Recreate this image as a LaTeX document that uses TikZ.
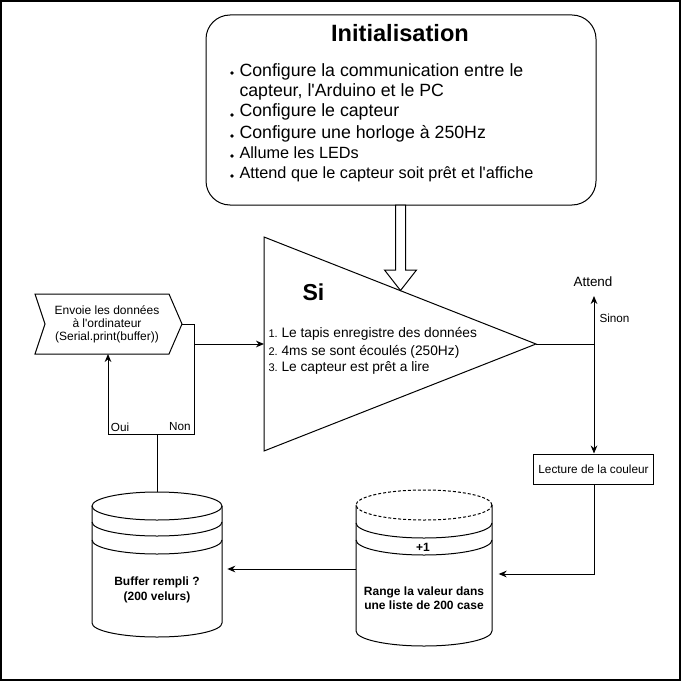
\documentclass[tikz,border=0pt]{standalone}
\usepackage{fontspec}
\setmainfont{Liberation Sans}[Ligatures=TeXOff]
\usetikzlibrary{arrows.meta}
\begin{document}
\begin{tikzpicture}[x=0.75pt,y=-0.75pt,line width=0.75pt,
  arr/.style={-{Stealth[length=6pt,width=5pt]}},
  bul/.style={anchor=base west,inner sep=0pt,font=\fontsize{13.3}{15}\selectfont},
  bulsmall/.style={anchor=base west,inner sep=0pt,font=\fontsize{12.2}{14}\selectfont},
  dot/.style={fill=black,circle,inner sep=0pt,minimum size=2.8pt},
  lst/.style={anchor=base west,inner sep=0pt,font=\fontsize{10.3}{12}\selectfont},
  num/.style={anchor=base west,inner sep=0pt,font=\fontsize{8.3}{10}\selectfont},
  lbl/.style={inner sep=0pt,font=\fontsize{8.8}{10}\selectfont},
  boldlbl/.style={inner sep=0pt,align=center,font=\bfseries\fontsize{9}{11}\selectfont},
  cylL/.style={x radius=48.75pt,y radius=10.5pt},
  cylR/.style={x radius=51pt,y radius=11.25pt}]
\useasboundingbox (0,0) rectangle (681,681);
\draw[line width=1.5pt] (0.75,0.75) rectangle (680.25,680.25);

% Initialisation box
\node[draw,rounded corners=18pt,minimum width=292.5pt,minimum height=142.5pt,inner sep=0pt] (init) at (401,110) {};
\node[anchor=base,inner sep=0pt,font=\bfseries\fontsize{17.7}{20}\selectfont] (title) at (400,41.7) {Initialisation};
\node[dot] (d1) at (232,73) {};
\node[bul] (b1) at (239,77) {Configure la communication entre le};
\node[bul] (b1b) at (239,97) {capteur, l'Arduino et le PC};
\node[dot] (d2) at (232,115) {};
\node[bul] (b2) at (239,117) {Configure le capteur};
\node[dot] (d3) at (232,136) {};
\node[bul] (b3) at (239,138) {Configure une horloge à 250Hz};
\node[dot] (d4) at (232,156) {};
\node[bulsmall] (b4) at (239,159) {Allume les LEDs};
\node[dot] (d5) at (232,176) {};
\node[bulsmall] (b5) at (239,178) {Attend que le capteur soit prêt et l'affiche};

% block arrow
\draw[fill=white] (395.5,205) -- (405.5,205) -- (405.5,270) -- (416.5,270) -- (400.5,290.5) -- (384.5,270) -- (395.5,270) -- cycle;

% triangle
\coordinate (tT) at (264,237);
\coordinate (tB) at (264,451);
\coordinate (tip) at (536,344);
\coordinate (tin) at (264,344);
\draw (tT) -- (tip) -- (tB) -- cycle;
\node[anchor=base west,inner sep=0pt,font=\bfseries\fontsize{17.3}{20}\selectfont] (si) at (302,300.7) {Si};
\node[num] (n1) at (268,337.3) {1.};
\node[lst] (l1) at (281,337.3) {Le tapis enregistre des données};
\node[num] (n2) at (268,355) {2.};
\node[lst] (l2) at (281,355) {4ms se sont écoulés (250Hz)};
\node[num] (n3) at (268,371.7) {3.};
\node[lst] (l3) at (281,371.7) {Le capteur est prêt a lire};

% right branch
\coordinate (split) at (594,344);
\node[anchor=base,inner sep=0pt,font=\fontsize{10.1}{12}\selectfont] (attend) at (593,286.7) {Attend};
\node[anchor=base west,inner sep=0pt,font=\fontsize{8.8}{10}\selectfont] (sinon) at (599,322.3) {Sinon};
\node[draw,minimum width=90pt,minimum height=22.5pt,inner sep=0pt,font=\fontsize{8.85}{10}\selectfont] (lect) at (593.5,469) {Lecture de la couleur};
\draw (tip) -- (split);
\draw[arr] (split) -- (594,296);
\draw[arr] (split) -- (split |- lect.north);

% Envoie chevron
\draw (35,294) -- (169,294) -- (182,324) -- (169,354) -- (35,354) -- (45,324) -- cycle;
\coordinate (envE) at (182,324);
\coordinate (envS) at (108,354);
\node[lbl,align=center,font=\fontsize{9}{9.75}\selectfont] (env) at (107,324) {Envoie les données\\à l'ordinateur\\(Serial.print(buffer))};

% left cylinder
\draw (157,506) ellipse [cylL];
\draw (92,522) arc[start angle=180,end angle=360,cylL];
\draw (92,540) arc[start angle=180,end angle=360,cylL];
\draw (92,506) -- (92,623) arc[start angle=180,end angle=360,cylL] -- (222,506);
\coordinate (bufN) at (157,492);
\coordinate (bufE) at (222,569);
\node[boldlbl,font=\bfseries\fontsize{9}{11.25}\selectfont] (buf) at (157,589.5) {Buffer rempli ?\\(200 velurs)};

% right cylinder
\draw[dash pattern=on 2.25pt off 1.5pt] (424,505) ellipse [cylR];
\draw (356,523) arc[start angle=180,end angle=360,cylR];
\draw (356,540) arc[start angle=180,end angle=360,cylR];
\draw (356,505) -- (356,631) arc[start angle=180,end angle=360,cylR] -- (492,505);
\coordinate (rngE) at (492,574);
\coordinate (rngW) at (356,569);
\node[boldlbl] (plus) at (423,547) {+1};
\node[boldlbl,font=\bfseries\fontsize{9}{10.5}\selectfont] (rng) at (424,598) {Range la valeur dans\\une liste de 200 case};

% connectors bottom
\draw[arr,shorten >=5pt] (lect.south -| split) -- (594,574) -- (rngE);
\draw[arr,shorten >=4pt] (rngW) -- (bufE);

% Oui / Non
\coordinate (j) at (157,434);
\draw (bufN) -- (j);
\draw[arr] (j) -- (108,434) -- (envS);
\draw (j) -- (194,434) -- (194,344);
\draw[arr] (envE) -- (194,324) -- (194,344) -- (tin);
\node[lbl] (oui) at (120,427) {Oui};
\node[lbl] (non) at (180,427) {Non};
\end{tikzpicture}
\end{document}
